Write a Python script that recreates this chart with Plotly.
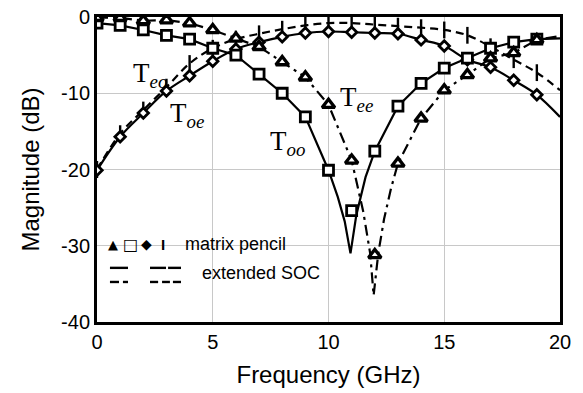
import plotly.graph_objects as go

# ---------------- data ----------------
freq_int = list(range(0, 21))
freq_mp = list(range(0, 20))

# extended SOC curves
teo_soc = [-20, -15.3, -12.2, -9.2, -6.1, -4.1, -2.9, -2.2, -1.6, -1.1, -0.8,
           -0.8, -1.0, -1.2, -1.4, -1.7, -2.4, -3.9, -5.6, -7.3, -9.6]
toe_soc = [-20.1, -15.7, -12.6, -9.7, -7.7, -5.8, -4.2, -3.3, -2.6, -2.1, -1.9,
           -2.0, -2.1, -2.2, -3.0, -3.8, -5.6, -6.6, -8.3, -10.2, -13.1]
too_soc_f = [0, 1, 2, 3, 4, 5, 6, 7, 8, 9, 10, 10.4, 10.7, 10.95, 11.2, 11.6,
             12, 13, 14, 15, 16, 17, 18, 19, 20]
too_soc = [-0.8, -1.1, -1.7, -2.4, -2.9, -4.1, -5.0, -7.5, -10.0, -13.1, -20.1,
           -23.6, -26.8, -31.0, -26.0, -21.0, -17.6, -11.7, -8.7, -6.7, -5.4,
           -4.1, -3.3, -2.9, -2.8]
tee_soc_f = [0, 1, 2, 3, 4, 5, 6, 7, 8, 9, 10, 11, 11.5, 11.8, 11.95, 12.15,
             12.4, 12.7, 13, 14, 15, 16, 17, 18, 19, 20]
tee_soc = [-0.1, -0.1, -0.5, -0.4, -0.8, -1.7, -2.8, -3.9, -5.9, -7.9, -11.5,
           -18.8, -25.5, -31.0, -36.5, -31.0, -26.5, -22.5, -19.2, -13.3, -9.6,
           -7.6, -5.4, -4.7, -3.0, -2.5]

# matrix pencil points
teo_mp = [-20, -15.3, -12.2, -9.2, -6.1, -4.1, -2.9, -2.2, -1.6, -1.1, -0.8,
          -0.8, -1.0, -1.2, -1.4, -1.7, -2.4, -3.9, -5.6, -7.3]
toe_mp = [-20.1, -15.7, -12.6, -9.7, -7.7, -5.8, -4.2, -3.3, -2.6, -2.1, -1.9,
          -2.0, -2.1, -2.2, -3.0, -3.8, -5.6, -6.6, -8.3, -10.2]
too_mp = [-0.8, -1.1, -1.7, -2.4, -2.9, -4.1, -5.0, -7.5, -10.0, -13.1, -20.1,
          -25.4, -17.6, -11.7, -8.7, -6.7, -5.4, -4.1, -3.3, -2.9]
tee_mp = [-0.1, -0.1, -0.5, -0.4, -0.8, -1.7, -2.8, -3.9, -5.9, -7.9, -11.5,
          -18.8, -31.2, -19.2, -13.3, -9.6, -7.6, -5.4, -4.7, -3.0]

x_ticks = [0, 5, 10, 15, 20]
x_tick_labels = ["0", "5", "10", "15", "20"]
y_ticks = [0, -10, -20, -30, -40]
y_tick_labels = ["0", "-10", "-20", "-30", "-40"]

# ---------------- figure ----------------
fig = go.Figure()
LW = 2.2
# SOC lines
fig.add_trace(go.Scatter(x=freq_int, y=teo_soc, mode="lines",
                         line=dict(color="black", width=LW, dash="8px,5px", shape="spline")))
fig.add_trace(go.Scatter(x=freq_int, y=toe_soc, mode="lines",
                         line=dict(color="black", width=LW, shape="spline")))
fig.add_trace(go.Scatter(x=too_soc_f, y=too_soc, mode="lines",
                         line=dict(color="black", width=LW)))
fig.add_trace(go.Scatter(x=tee_soc_f, y=tee_soc, mode="lines",
                         line=dict(color="black", width=LW, dash="11px,5px,3px,5px")))

# matrix pencil markers
fig.add_trace(go.Scatter(x=freq_mp, y=teo_mp, mode="markers",
                         marker=dict(symbol="line-ns", size=12, color="black",
                                     line=dict(color="black", width=2.4))))
fig.add_trace(go.Scatter(x=freq_mp, y=toe_mp, mode="markers",
                         marker=dict(symbol="diamond", size=8, color="white",
                                     line=dict(color="black", width=2.8))))
fig.add_trace(go.Scatter(x=freq_mp, y=too_mp, mode="markers",
                         marker=dict(symbol="square", size=10, color="white",
                                     line=dict(color="black", width=2.8))))
fig.add_trace(go.Scatter(x=freq_mp, y=tee_mp, mode="markers",
                         marker=dict(symbol="triangle-up", size=11, color="white",
                                     line=dict(color="black", width=3.3))))

serif = "Liberation Serif"
sans = "Liberation Sans, Arial, sans-serif"
labels = [("T<sub><i>eo</i></sub>", 2.3, -7.6),
          ("T<sub><i>oe</i></sub>", 3.9, -12.9),
          ("T<sub><i>oo</i></sub>", 8.25, -16.5),
          ("T<sub><i>ee</i></sub>", 11.2, -10.7)]
for txt, x, y in labels:
    fig.add_annotation(x=x, y=y, text=txt, showarrow=False,
                       font=dict(family=serif, size=27, color="black"),
                       xanchor="center", yanchor="middle")

# custom legend
fig.add_annotation(x=0.71, y=-29.8, text="▲", showarrow=False,
                   font=dict(family="DejaVu Sans", size=13, color="black"))
fig.add_annotation(x=1.43, y=-29.8, text="<b>□</b>", showarrow=False,
                   font=dict(family="DejaVu Sans", size=16, color="black"))
fig.add_annotation(x=2.14, y=-29.8, text="◆", showarrow=False,
                   font=dict(family="DejaVu Sans", size=14, color="black"))
fig.add_annotation(x=2.85, y=-29.8, text="<b>I</b>", showarrow=False,
                   font=dict(family=sans, size=15, color="black"))
fig.add_annotation(x=3.71, y=-29.8, text="matrix pencil", showarrow=False,
                   xanchor="left", font=dict(family=sans, size=18, color="black"))
fig.add_annotation(x=4.45, y=-33.6, text="extended SOC", showarrow=False,
                   xanchor="left", font=dict(family=sans, size=18, color="black"))

segs = [(0.56, 1.34, -32.9), (2.29, 2.98, -32.9), (3.07, 3.63, -32.9),
        (0.56, 0.95, -34.75), (1.12, 1.34, -34.75),
        (2.29, 2.64, -34.75), (2.81, 3.15, -34.75), (3.28, 3.63, -34.75)]
for x0, x1, y in segs:
    fig.add_shape(type="line", x0=x0, x1=x1, y0=y, y1=y, xref="x", yref="y",
                  line=dict(color="black", width=2.4))

axis_common = dict(showline=True, linecolor="black", linewidth=3, mirror=True,
                   showgrid=True, gridcolor="#c8c8c8", gridwidth=1,
                   zeroline=False, ticks="", automargin=False,
                   tickfont=dict(family=sans, size=20, color="black"),
                   title_font=dict(family=sans, size=24, color="black"))

fig.update_xaxes(range=[0, 20], tickvals=x_ticks, ticktext=x_tick_labels,
                 title_text="Frequency (GHz)", **axis_common)
fig.update_yaxes(range=[-40, 0], tickvals=y_ticks, ticktext=y_tick_labels,
                 title_text="Magnitude (dB)", ticklabelstandoff=0, **axis_common)

fig.update_layout(width=583, height=393, showlegend=False,
                  margin=dict(l=97, r=23, t=17, b=71),
                  plot_bgcolor="white", paper_bgcolor="white")

fig.write_html("out.html", config={"displayModeBar": False})

# remove the default page margin so the figure sits at the window's corner
with open("out.html", "r", encoding="utf-8") as fh:
    html = fh.read()
html = html.replace("<head>",
                    "<head><style>html,body{margin:0;padding:0;overflow:hidden}</style>", 1)
with open("out.html", "w", encoding="utf-8") as fh:
    fh.write(html)
